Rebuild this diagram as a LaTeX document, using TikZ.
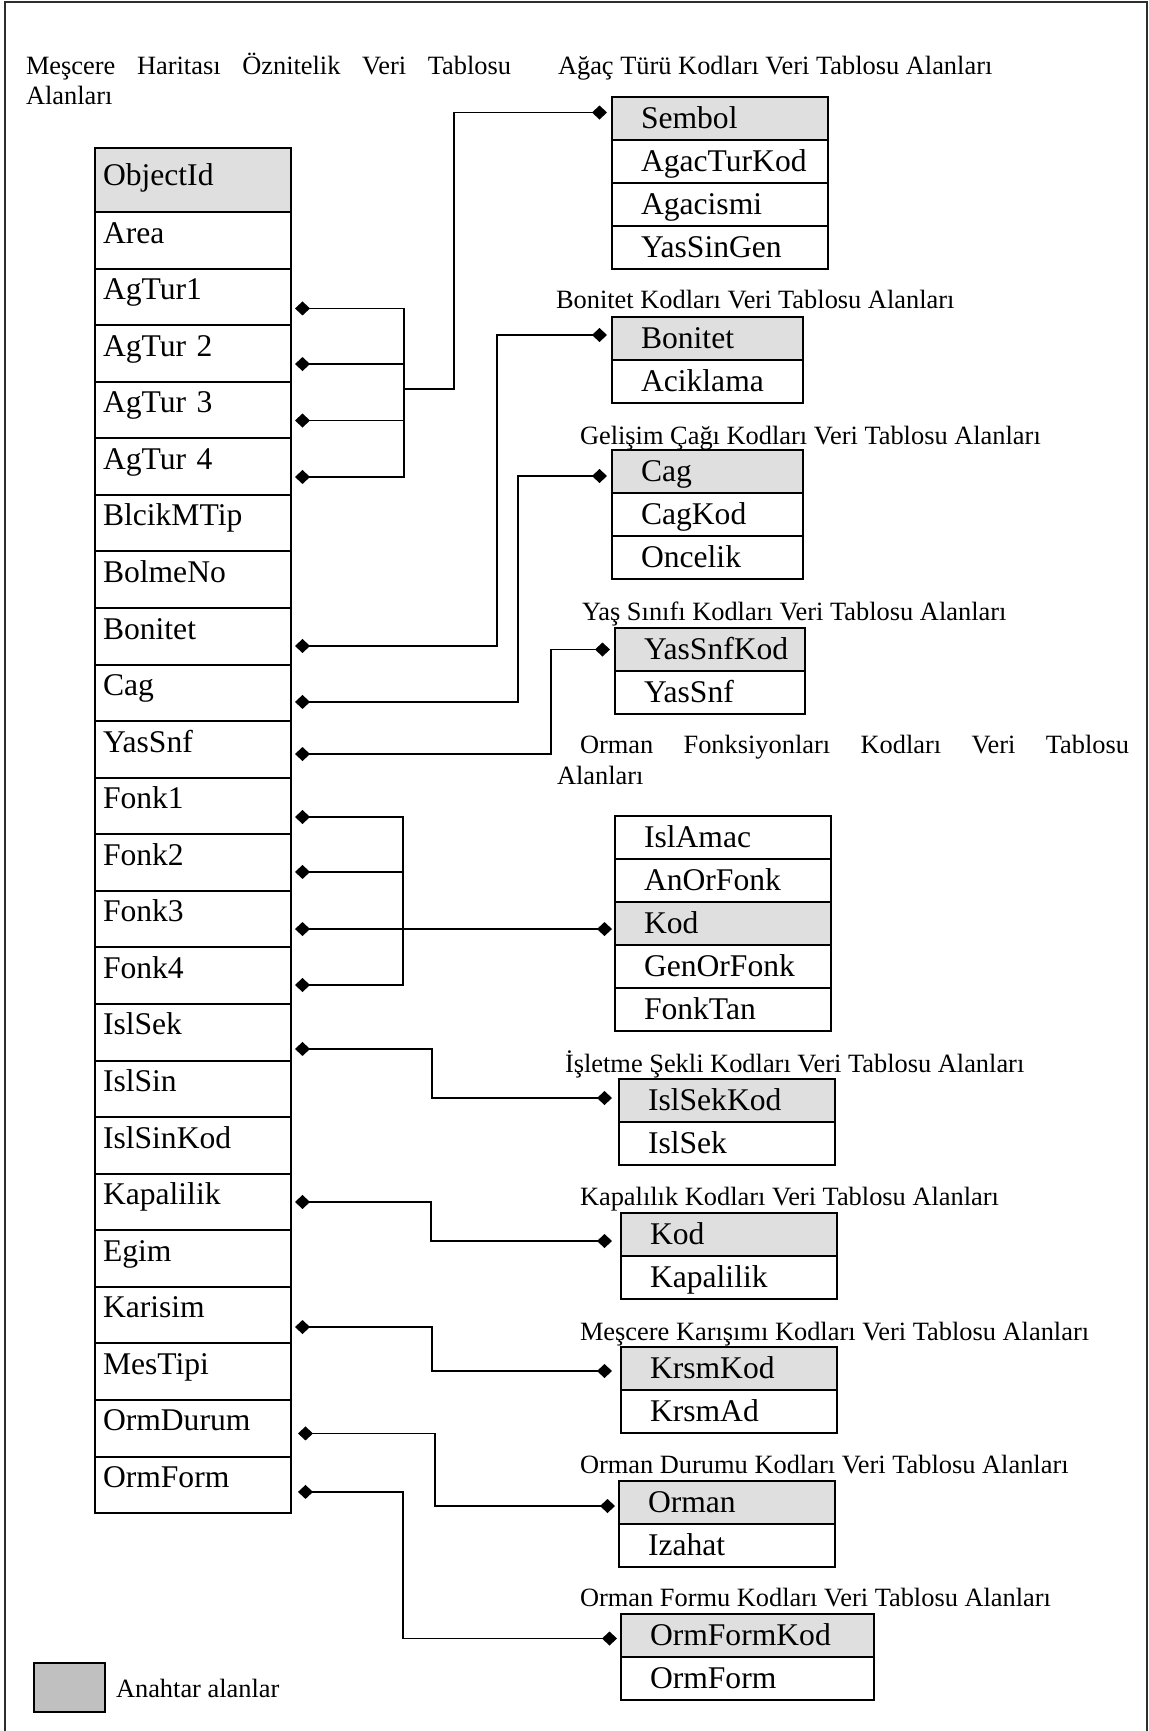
\documentclass[tikz,border=0pt]{standalone}
\usepackage{fontspec}
\setmainfont{Liberation Serif}
\usetikzlibrary{arrows.meta,positioning}
\definecolor{keygray}{RGB}{223,223,223}
\definecolor{legendgray}{RGB}{192,192,192}
\definecolor{framegray}{RGB}{45,45,45}
\newcommand{\fldpad}{\hspace*{14.5pt}}
\tikzset{dmd/.tip={Diamond[length=7.5pt,width=7pt]}}

\begin{document}
\begin{tikzpicture}[x=0.5pt, y=-0.5pt,
  every node/.append style={outer sep=0pt},
  lbl/.style={anchor=base west, inner sep=0pt, font=\fontsize{13.2pt}{16pt}\selectfont},
  mcell/.style={draw, line width=1pt, inner xsep=4pt, inner ysep=0pt, text width=90pt, align=left,
    text height=15.5pt, text depth=12.785pt, font=\fontsize{15.8pt}{19pt}\selectfont},
  mnext/.style={mcell, below=0pt of #1},
  rcell/.style={draw, line width=1pt, inner sep=0pt, text width=#1, align=left,
    text height=15.75pt, text depth=5.75pt, font=\fontsize{15.8pt}{19pt}\selectfont},
  rkey/.style={rcell=#1, fill=keygray},
  conn/.style={line width=0.8pt}
]
\useasboundingbox (0,0) rectangle (1149,1731);

% outer frame (open at the bottom)
\draw[framegray, line width=1pt] (5,1731) -- (5,2) -- (1147,2) -- (1147,1731);

% table captions
\node[lbl] (tmain) at (26,74) {\makebox[242.5pt][s]{Meşcere Haritası Öznitelik Veri Tablosu}};
\node[lbl] (tmain2) at (26,104) {Alanları};
\node[lbl] (tagac) at (558,74) {Ağaç Türü Kodları Veri Tablosu Alanları};
\node[lbl] (tbon) at (556,308) {Bonitet Kodları Veri Tablosu Alanları};
\node[lbl] (tcag) at (580,444) {Gelişim Çağı Kodları Veri Tablosu Alanları};
\node[lbl] (tyas) at (582,620) {Yaş Sınıfı Kodları Veri Tablosu Alanları};
\node[lbl] (tfonk) at (580,753) {\makebox[274.5pt][s]{Orman Fonksiyonları Kodları Veri Tablosu}};
\node[lbl] (tfonk2) at (557,784) {Alanları};
\node[lbl] (tisl) at (565,1072) {İşletme Şekli Kodları Veri Tablosu Alanları};
\node[lbl] (tkap) at (580,1205) {Kapalılık Kodları Veri Tablosu Alanları};
\node[lbl] (tkrs) at (580,1340) {Meşcere Karışımı Kodları Veri Tablosu Alanları};
\node[lbl] (tdur) at (580,1473) {Orman Durumu Kodları Veri Tablosu Alanları};
\node[lbl] (tform) at (580,1606) {Orman Formu Kodları Veri Tablosu Alanları};

% stand map attribute table
\node[mcell, fill=keygray, anchor=north west, text height=18.5pt, text depth=13.5pt] (objectid) at (95,148) {ObjectId};
\node[mnext=objectid] (area) {Area};
\node[mnext=area] (agtur1) {AgTur1};
\node[mnext=agtur1] (agtur2) {AgTur 2};
\node[mnext=agtur2] (agtur3) {AgTur 3};
\node[mnext=agtur3] (agtur4) {AgTur 4};
\node[mnext=agtur4] (blcik) {BlcikMTip};
\node[mnext=blcik] (bolme) {BolmeNo};
\node[mnext=bolme] (bonitet) {Bonitet};
\node[mnext=bonitet] (cag) {Cag};
\node[mnext=cag] (yassnf) {YasSnf};
\node[mnext=yassnf] (fonk1) {Fonk1};
\node[mnext=fonk1] (fonk2) {Fonk2};
\node[mnext=fonk2] (fonk3) {Fonk3};
\node[mnext=fonk3] (fonk4) {Fonk4};
\node[mnext=fonk4] (islsek) {IslSek};
\node[mnext=islsek] (islsin) {IslSin};
\node[mnext=islsin] (islsinkod) {IslSinKod};
\node[mnext=islsinkod] (kapalilik) {Kapalilik};
\node[mnext=kapalilik] (egim) {Egim};
\node[mnext=egim] (karisim) {Karisim};
\node[mnext=karisim] (mestipi) {MesTipi};
\node[mnext=mestipi] (ormdurum) {OrmDurum};
\node[mnext=ormdurum] (ormform) {OrmForm};

% tree species codes
\node[rkey=108pt, anchor=north west] (sembol) at (612,97) {\fldpad Sembol};
\node[rcell=108pt, below=0pt of sembol] (agacturkod) {\fldpad AgacTurKod};
\node[rcell=108pt, below=0pt of agacturkod] (agacismi) {\fldpad Agacismi};
\node[rcell=108pt, below=0pt of agacismi] (yassingen) {\fldpad YasSinGen};

% site class codes
\node[rkey=95.5pt, anchor=north west] (bonkey) at (612,317) {\fldpad Bonitet};
\node[rcell=95.5pt, below=0pt of bonkey] (aciklama) {\fldpad Aciklama};

% development stage codes
\node[rkey=95.5pt, anchor=north west] (cagkey) at (612,450) {\fldpad Cag};
\node[rcell=95.5pt, below=0pt of cagkey] (cagkod) {\fldpad CagKod};
\node[rcell=95.5pt, below=0pt of cagkod] (oncelik) {\fldpad Oncelik};

% age class codes
\node[rkey=95pt, anchor=north west] (yaskey) at (615,628) {\fldpad YasSnfKod};
\node[rcell=95pt, below=0pt of yaskey] (yassnfr) {\fldpad YasSnf};

% forest function codes
\node[rcell=108pt, anchor=north west] (islamac) at (615,816) {\fldpad IslAmac};
\node[rcell=108pt, below=0pt of islamac] (anorfonk) {\fldpad AnOrFonk};
\node[rkey=108pt, below=0pt of anorfonk] (fkod) {\fldpad Kod};
\node[rcell=108pt, below=0pt of fkod] (genorfonk) {\fldpad GenOrFonk};
\node[rcell=108pt, below=0pt of genorfonk] (fonktan) {\fldpad FonkTan};

% management type codes
\node[rkey=108pt, anchor=north west] (islkey) at (619,1079) {\fldpad IslSekKod};
\node[rcell=108pt, below=0pt of islkey] (islsekr) {\fldpad IslSek};

% canopy closure codes
\node[rkey=108pt, anchor=north west] (kapkey) at (621,1213) {\fldpad Kod};
\node[rcell=108pt, below=0pt of kapkey] (kapr) {\fldpad Kapalilik};

% stand mixture codes
\node[rkey=108pt, anchor=north west] (krskey) at (621,1347) {\fldpad KrsmKod};
\node[rcell=108pt, below=0pt of krskey] (krsmad) {\fldpad KrsmAd};

% forest condition codes
\node[rkey=108pt, anchor=north west] (durkey) at (619,1481) {\fldpad Orman};
\node[rcell=108pt, below=0pt of durkey] (izahat) {\fldpad Izahat};

% forest form codes
\node[rkey=126.5pt, anchor=north west] (formkey) at (621,1614) {\fldpad OrmFormKod};
\node[rcell=126.5pt, below=0pt of formkey] (formr) {\fldpad OrmForm};

% legend
\node[draw, line width=1pt, fill=legendgray, inner sep=0pt, minimum width=35.5pt,
  minimum height=24.5pt, anchor=north west] (legbox) at (34,1663) {};
\node[lbl] (legtext) at (116,1697) {Anahtar alanlar};

% species fields -> species codes
\coordinate (agbus) at (404,389);
\draw[conn, dmd-] ([xshift=2pt,yshift=-5.8pt]agtur1.east) -| (agbus);
\draw[conn, dmd-] ([xshift=2pt,yshift=-5.3pt]agtur2.east) -| (agbus);
\draw[conn, dmd-] ([xshift=2pt,yshift=-5.25pt]agtur3.east) -| (agbus);
\draw[conn, dmd-] ([xshift=2pt,yshift=-5.2pt]agtur4.east) -| (agbus);
\draw[conn, -dmd] (agbus) -- ++(50,0) |- ([xshift=-2.5pt,yshift=3pt]sembol.west);

% single links
\draw[conn, dmd-dmd] ([xshift=2pt,yshift=-4.85pt]bonitet.east) -- ++(202,0)
  |- ([xshift=-2.5pt,yshift=1.75pt]bonkey.west);
\draw[conn, dmd-dmd] ([xshift=2pt,yshift=-4.55pt]cag.east) -- ++(223,0)
  |- ([xshift=-2.5pt,yshift=-2.25pt]cagkey.west);
\draw[conn, dmd-dmd] ([xshift=2pt,yshift=-2.3pt]yassnf.east) -- ++(256,0)
  |- ([xshift=-2.5pt]yaskey.west);

% function fields -> function codes
\coordinate (f3s) at ([xshift=2pt,yshift=-4.95pt]fonk3.east);
\coordinate (fkbus) at ([xshift=54pt]f3s);
\coordinate (f3e) at (f3s -| fkod.west);
\draw[conn, dmd-] ([xshift=2pt,yshift=-5.5pt]fonk1.east) -| (fkbus);
\draw[conn, dmd-] ([xshift=2pt,yshift=-4.7pt]fonk2.east) -| (fkbus);
\draw[conn, dmd-] ([xshift=2pt,yshift=-4.65pt]fonk4.east) -| (fkbus);
\draw[conn, dmd-dmd] (f3s) -- ([xshift=-1.5pt]f3e);

\draw[conn, dmd-dmd] ([xshift=2pt,yshift=-8.35pt]islsek.east) -- ++(137,0)
  |- ([xshift=-3.5pt,yshift=1.25pt]islkey.west);
\draw[conn, dmd-dmd] ([xshift=2pt]kapalilik.east) -- ++(136,0)
  |- ([xshift=-4.5pt,yshift=-3.25pt]kapkey.west);
\draw[conn, dmd-dmd] ([xshift=2pt,yshift=-5.95pt]karisim.east) -- ++(137,0)
  |- ([xshift=-4.5pt,yshift=-1.25pt]krskey.west);
\draw[conn, dmd-dmd] ([xshift=3.5pt,yshift=-2.6pt]ormdurum.east) -- ++(137,0)
  |- ([xshift=-2pt,yshift=-1.75pt]durkey.west);
\draw[conn, dmd-dmd] ([xshift=3.5pt,yshift=-3.55pt]ormform.east) -- ++(105,0)
  |- ([xshift=-2pt,yshift=-1.5pt]formkey.west);
\end{tikzpicture}
\end{document}
